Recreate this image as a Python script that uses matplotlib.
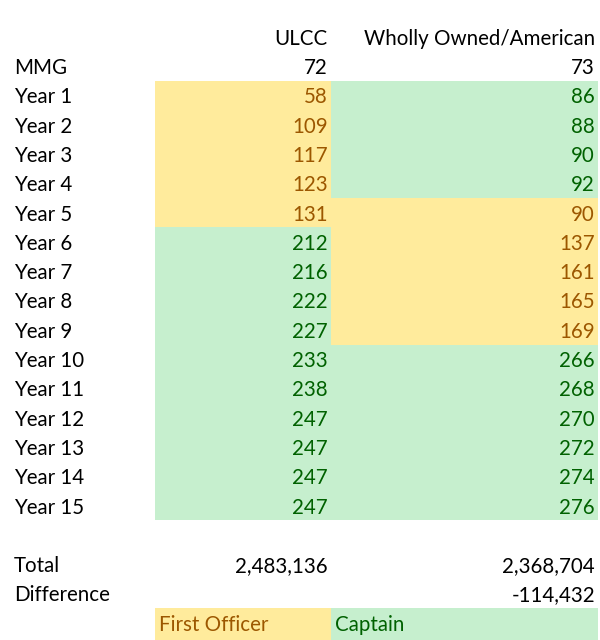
import matplotlib
matplotlib.use('Agg')
import matplotlib.pyplot as plt

# Dados da tabela
row_labels = ['MMG'] + ['Year %d' % i for i in range(1, 16)]
ulcc = [72, 58, 109, 117, 123, 131, 212, 216, 222, 227, 233, 238, 247, 247, 247, 247]
wholly = [73, 86, 88, 90, 92, 90, 137, 161, 165, 169, 266, 268, 270, 272, 274, 276]
# categoria de cada célula: FO = First Officer, CA = Captain, None = sem cor
ulcc_cat = [None] + ['FO'] * 5 + ['CA'] * 10
wholly_cat = [None] + ['CA'] * 4 + ['FO'] * 5 + ['CA'] * 6
col_headers = ['ULCC', 'Wholly Owned/American']
total_labels = ['Total', 'Difference']
totals_ulcc = ['2,483,136', '']
totals_wholly = ['2,368,704', '-114,432']
legend_labels = ['First Officer', 'Captain']

fill = {'FO': '#FFEB9C', 'CA': '#C6EFCE'}
font_col = {'FO': '#9C5700', 'CA': '#006100', None: '#000000'}

plt.rcParams['font.family'] = ['Lato', 'DejaVu Sans']
fs = 14.8

fig = plt.figure(figsize=(6, 6.4), dpi=100)
ax = fig.add_axes([0, 0, 1, 1])
row_h = 29.3
y0 = 37
ax.set_xlim(0, 600)
ax.set_ylim((640 - y0) / row_h, -y0 / row_h)
ax.axis('off')

# colunas (em pixels)
c1_left, c1_right, c2_right = 155, 331, 598
lab_x = 14
pad = 3
dy = 0.06  # pequeno ajuste vertical do texto


def txt(x, r, s, ha='right', color='#000000'):
    ax.text(x, r + dy, s, ha=ha, va='center', fontsize=fs, color=color)


# cabeçalho
txt(c1_right - pad, 0, col_headers[0])
txt(c2_right - pad, 0, col_headers[1])

for i, lab in enumerate(row_labels):
    r = i + 1
    txt(lab_x, r, lab, ha='left')
    if ulcc_cat[i]:
        ax.barh(r, c1_right - c1_left, left=c1_left, height=1, color=fill[ulcc_cat[i]], lw=0)
    if wholly_cat[i]:
        ax.barh(r, c2_right - c1_right, left=c1_right, height=1, color=fill[wholly_cat[i]], lw=0)
    txt(c1_right - pad, r, str(ulcc[i]), color=font_col[ulcc_cat[i]])
    txt(c2_right - pad, r, str(wholly[i]), color=font_col[wholly_cat[i]])

# totais
for j, lab in enumerate(total_labels):
    r = len(row_labels) + 2 + j
    txt(lab_x, r, lab, ha='left')
    txt(c1_right - pad, r, totals_ulcc[j])
    txt(c2_right - pad, r, totals_wholly[j])

# legenda
r = len(row_labels) + 4
ax.barh(r + 0.1, c1_right - c1_left, left=c1_left, height=1.2, color=fill['FO'], lw=0)
ax.barh(r + 0.1, c2_right - c1_right, left=c1_right, height=1.2, color=fill['CA'], lw=0)
txt(c1_left + 4, r, legend_labels[0], ha='left', color=font_col['FO'])
txt(c1_right + 4, r, legend_labels[1], ha='left', color=font_col['CA'])

fig.savefig('out.png', dpi=100)
